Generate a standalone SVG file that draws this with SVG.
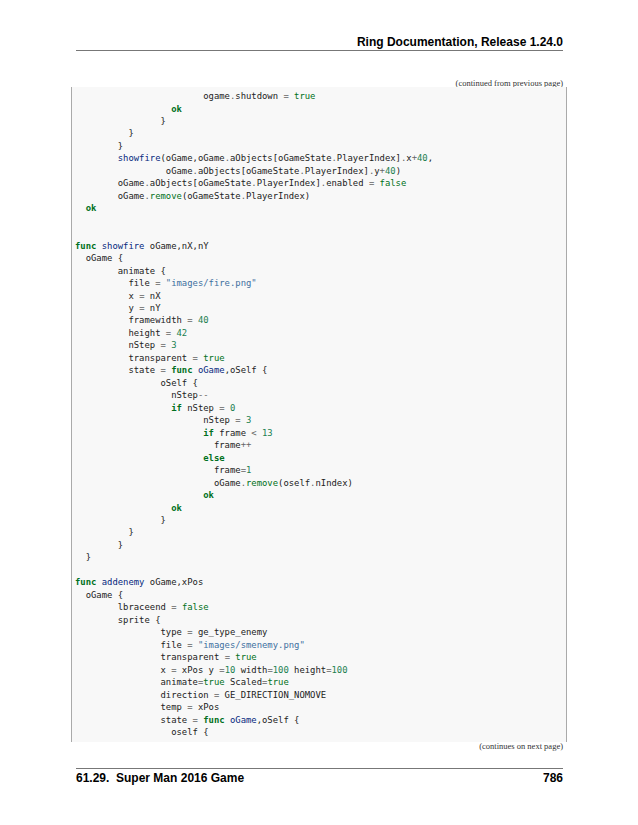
<svg xmlns="http://www.w3.org/2000/svg" width="638" height="825" viewBox="0 0 638 825">
<style>
.c{font-family:"DejaVu Sans Mono","Liberation Mono",monospace;font-size:8.9px;fill:#222;white-space:pre}
.k{fill:#007020;font-weight:bold}
.b{fill:#007020}
.m{fill:#007020}
.o{fill:#666666}
.n{fill:#208050}
.s{fill:#4070a0}
.f{fill:#06287e}
.h{font-family:"Liberation Sans",Arial,sans-serif;font-weight:bold;font-size:12px;fill:#000;white-space:pre}
.p{font-family:"Liberation Serif","Times New Roman",serif;font-size:8.5px;fill:#333}
</style>
<rect width="638" height="825" fill="#fff"/>
<g id="header">
<text class="h" x="563" y="46" text-anchor="end">Ring Documentation, Release 1.24.0</text>
<line x1="76" y1="50.5" x2="563" y2="50.5" stroke="#777" stroke-width="1"/>
<text class="p" x="563" y="86" text-anchor="end">(continued from previous page)</text>
</g>
<g id="codebox">
<rect x="71" y="87" width="496" height="655" fill="#f8f8f8"/>
<line x1="71.5" y1="87" x2="71.5" y2="742" stroke="#aaa"/>
<line x1="566.5" y1="87" x2="566.5" y2="742" stroke="#aaa"/>
</g>
<g id="code" xml:space="preserve">
<text class="c" x="75" y="99">                        ogame<tspan class="o">.</tspan>shutdown <tspan class="o">=</tspan> <tspan class="b">true</tspan></text>
<text class="c" x="75" y="111.5">                  <tspan class="k">ok</tspan></text>
<text class="c" x="75" y="123.9">                }</text>
<text class="c" x="75" y="136.4">          }</text>
<text class="c" x="75" y="148.9">        }</text>
<text class="c" x="75" y="161.4">        <tspan class="f">showfire</tspan>(oGame,oGame<tspan class="o">.</tspan>aObjects[oGameState<tspan class="o">.</tspan>PlayerIndex]<tspan class="o">.</tspan>x<tspan class="o">+</tspan><tspan class="n">40</tspan>,</text>
<text class="c" x="75" y="173.8">                 oGame<tspan class="o">.</tspan>aObjects[oGameState<tspan class="o">.</tspan>PlayerIndex]<tspan class="o">.</tspan>y<tspan class="o">+</tspan><tspan class="n">40</tspan>)</text>
<text class="c" x="75" y="186.3">        oGame<tspan class="o">.</tspan>aObjects[oGameState<tspan class="o">.</tspan>PlayerIndex]<tspan class="o">.</tspan>enabled <tspan class="o">=</tspan> <tspan class="b">false</tspan></text>
<text class="c" x="75" y="198.8">        oGame<tspan class="o">.</tspan><tspan class="m">remove</tspan>(oGameState<tspan class="o">.</tspan>PlayerIndex)</text>
<text class="c" x="75" y="211.2">  <tspan class="k">ok</tspan></text>
<text class="c" x="75" y="248.6"><tspan class="k">func</tspan> <tspan class="f">showfire</tspan> oGame,nX,nY</text>
<text class="c" x="75" y="261.1">  oGame {</text>
<text class="c" x="75" y="273.6">        animate {</text>
<text class="c" x="75" y="286.0">          file <tspan class="o">=</tspan> <tspan class="s">"images/fire.png"</tspan></text>
<text class="c" x="75" y="298.5">          x <tspan class="o">=</tspan> nX</text>
<text class="c" x="75" y="311.0">          y <tspan class="o">=</tspan> nY</text>
<text class="c" x="75" y="323.4">          framewidth <tspan class="o">=</tspan> <tspan class="n">40</tspan></text>
<text class="c" x="75" y="335.9">          height <tspan class="o">=</tspan> <tspan class="n">42</tspan></text>
<text class="c" x="75" y="348.4">          nStep <tspan class="o">=</tspan> <tspan class="n">3</tspan></text>
<text class="c" x="75" y="360.9">          transparent <tspan class="o">=</tspan> <tspan class="b">true</tspan></text>
<text class="c" x="75" y="373.3">          state <tspan class="o">=</tspan> <tspan class="k">func</tspan> <tspan class="f">oGame</tspan>,oSelf {</text>
<text class="c" x="75" y="385.8">                oSelf {</text>
<text class="c" x="75" y="398.3">                  nStep<tspan class="o">--</tspan></text>
<text class="c" x="75" y="410.7">                  <tspan class="k">if</tspan> nStep <tspan class="o">=</tspan> <tspan class="n">0</tspan></text>
<text class="c" x="75" y="423.2">                        nStep <tspan class="o">=</tspan> <tspan class="n">3</tspan></text>
<text class="c" x="75" y="435.7">                        <tspan class="k">if</tspan> frame <tspan class="o">&lt;</tspan> <tspan class="n">13</tspan></text>
<text class="c" x="75" y="448.2">                          frame<tspan class="o">++</tspan></text>
<text class="c" x="75" y="460.6">                        <tspan class="k">else</tspan></text>
<text class="c" x="75" y="473.1">                          frame<tspan class="o">=</tspan><tspan class="n">1</tspan></text>
<text class="c" x="75" y="485.6">                          oGame<tspan class="o">.</tspan><tspan class="m">remove</tspan>(oself<tspan class="o">.</tspan>nIndex)</text>
<text class="c" x="75" y="498.0">                        <tspan class="k">ok</tspan></text>
<text class="c" x="75" y="510.5">                  <tspan class="k">ok</tspan></text>
<text class="c" x="75" y="523.0">                }</text>
<text class="c" x="75" y="535.4">          }</text>
<text class="c" x="75" y="547.9">        }</text>
<text class="c" x="75" y="560.4">  }</text>
<text class="c" x="75" y="585.3"><tspan class="k">func</tspan> <tspan class="f">addenemy</tspan> oGame,xPos</text>
<text class="c" x="75" y="597.8">  oGame {</text>
<text class="c" x="75" y="610.3">        lbraceend <tspan class="o">=</tspan> <tspan class="b">false</tspan></text>
<text class="c" x="75" y="622.7">        sprite {</text>
<text class="c" x="75" y="635.2">                type <tspan class="o">=</tspan> ge_type_enemy</text>
<text class="c" x="75" y="647.7">                file <tspan class="o">=</tspan> <tspan class="s">"images/smenemy.png"</tspan></text>
<text class="c" x="75" y="660.2">                transparent <tspan class="o">=</tspan> <tspan class="b">true</tspan></text>
<text class="c" x="75" y="672.6">                x <tspan class="o">=</tspan> xPos y <tspan class="o">=</tspan><tspan class="n">10</tspan> width<tspan class="o">=</tspan><tspan class="n">100</tspan> height<tspan class="o">=</tspan><tspan class="n">100</tspan></text>
<text class="c" x="75" y="685.1">                animate<tspan class="o">=</tspan><tspan class="b">true</tspan> Scaled<tspan class="o">=</tspan><tspan class="b">true</tspan></text>
<text class="c" x="75" y="697.6">                direction <tspan class="o">=</tspan> GE_DIRECTION_NOMOVE</text>
<text class="c" x="75" y="710.0">                temp <tspan class="o">=</tspan> xPos</text>
<text class="c" x="75" y="722.5">                state <tspan class="o">=</tspan> <tspan class="k">func</tspan> <tspan class="f">oGame</tspan>,oSelf {</text>
<text class="c" x="75" y="735.0">                  oself {</text>
</g>
<g id="footer" xml:space="preserve">
<text class="p" x="563" y="749" text-anchor="end">(continues on next page)</text>
<line x1="76" y1="768.5" x2="563" y2="768.5" stroke="#777" stroke-width="1"/>
<text class="h" x="76" y="782">61.29.  Super Man 2016 Game</text>
<text class="h" x="563" y="782" text-anchor="end">786</text>
</g>
</svg>
